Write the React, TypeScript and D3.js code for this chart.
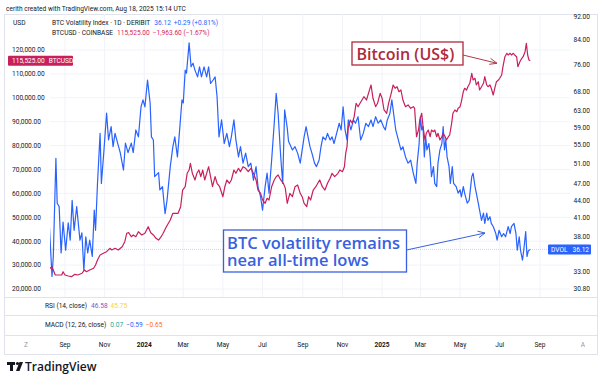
import React from "react";
import * as d3 from "d3";

const W = 602;
const H = 385;

// [days since 2023-09-01, DVOL]
const dvolSeries: [number, number][] = [
  [-27, 33.7], [-24, 39.6], [-20, 32.4], [-18, 35.1], [-14, 52.1], [-12, 43.5], [-9, 42.9], [-6, 35.6], [-3, 40.3],
  [1, 36.0], [5, 40.2], [8, 37.5], [11, 44.0], [14, 39.0], [18, 42.9], [23, 37.5], [26, 38.6], [29, 33.2], [32, 38.0],
  [35, 35.6], [38, 37.5], [42, 35.1], [45, 42.3], [47, 39.0], [50, 47.1], [54, 57.6], [56, 47.1], [60, 53.9], [64, 62.5],
  [67, 56.1], [71, 59.2], [74, 54.6], [77, 57.6], [81, 55.4], [85, 53.3], [90, 49.7], [93, 55.4], [97, 53.3], [102, 55.4],
  [105, 53.3], [109, 58.4], [113, 56.8], [117, 64.1], [120, 65.9], [123, 64.1], [127, 71.4], [131, 65.1], [133, 56.8],
  [136, 56.1], [138, 48.4], [144, 49.2], [146, 45.9], [150, 46.5], [154, 41.7], [157, 44.0], [162, 50.4], [166, 54.6],
  [169, 56.8], [173, 52.4], [176, 57.6], [180, 65.9], [182, 65.1], [185, 74.3], [187, 73.4], [191, 82.9], [194, 75.3],
  [197, 76.4], [200, 74.3], [204, 72.3], [207, 75.3], [210, 72.3], [214, 75.3], [218, 72.3], [221, 75.3], [224, 70.4],
  [228, 71.4], [231, 72.3], [234, 66.8], [237, 56.8], [241, 60.8], [245, 55.3], [249, 57.6], [253, 54.6], [256, 56.8],
  [260, 60.8], [263, 56.1], [267, 52.4], [270, 54.6], [274, 51.1], [278, 53.2], [282, 50.4], [286, 51.1], [290, 47.7],
  [294, 50.4], [297, 46.5], [301, 44.6], [304, 42.3], [308, 46.5], [311, 49.1], [314, 45.3], [318, 51.7], [322, 60.0],
  [325, 67.7], [328, 62.4], [332, 52.4], [335, 47.1], [338, 63.3], [342, 58.9], [344, 55.8], [350, 53.9], [354, 54.6],
  [358, 53.2], [362, 51.1], [365, 53.9], [368, 56.8], [371, 59.2], [374, 56.8], [377, 54.6], [380, 53.2], [384, 51.1],
  [387, 50.4], [391, 51.7], [394, 54.6], [397, 56.8], [401, 56.1], [404, 57.6], [408, 56.1], [411, 56.8], [414, 55.3],
  [418, 57.6], [422, 60.0], [425, 58.4], [428, 64.1], [431, 58.4], [434, 56.1], [436, 60.8], [440, 58.4], [444, 60.8],
  [447, 60.0], [451, 61.6], [455, 56.1], [459, 57.6], [463, 60.0], [467, 59.2], [471, 60.8], [474, 59.2], [478, 61.6],
  [482, 60.0], [486, 60.8], [490, 59.2], [493, 58.4], [496, 60.8], [500, 62.4], [503, 65.9], [505, 63.3], [509, 58.4],
  [513, 56.1], [517, 53.9], [520, 54.6], [524, 52.4], [528, 51.1], [532, 51.7], [536, 49.1], [540, 47.1], [542, 51.1],
  [545, 55.3], [547, 61.6], [549, 58.4], [551, 59.2], [553, 52.4], [555, 56.8], [557, 53.9], [560, 55.3], [562, 52.4],
  [564, 48.4], [567, 50.4], [569, 47.1], [572, 46.5], [574, 51.1], [577, 53.9], [580, 55.3], [582, 59.2], [584, 53.9],
  [586, 56.1], [588, 52.4], [591, 50.4], [593, 47.1], [596, 50.4], [598, 47.1], [602, 46.5], [605, 45.3], [608, 45.9],
  [610, 44.6], [613, 46.5], [615, 45.3], [619, 43.5], [622, 44.0], [626, 48.4], [628, 49.1], [631, 46.5], [633, 45.3],
  [636, 43.5], [638, 42.3], [641, 40.6], [644, 41.8], [646, 40.1], [649, 41.8], [651, 40.6], [654, 41.2], [656, 40.1],
  [659, 39.6], [663, 38.5], [665, 37.5], [668, 39.0], [672, 38.0], [675, 38.5], [678, 38.0], [682, 39.6], [685, 38.5],
  [687, 39.6], [691, 40.1], [694, 38.5], [696, 36.0], [699, 38.0], [701, 36.0], [704, 34.6], [706, 36.0], [709, 38.8],
  [711, 35.1], [713, 35.9], [716, 36.12],
];

// [days since 2023-09-01, BTCUSD close]
const btcSeries: [number, number][] = [
  [-27, 29300], [-23, 28660], [-20, 29300], [-15, 25860], [-10, 25860], [-5, 25860], [-3, 27240], [0, 25860], [5, 25440],
  [10, 25150], [15, 26150], [20, 25860], [26, 26570], [30, 27950], [33, 27240], [38, 27950], [44, 28660], [47, 30040],
  [50, 32140], [54, 34230], [59, 34940], [64, 35610], [69, 37030], [72, 36320], [77, 37030], [82, 36320], [88, 37700],
  [92, 39790], [95, 43310], [98, 43560], [102, 41880], [105, 42600], [109, 41880], [113, 43980], [118, 42600],
  [123, 43310], [128, 46070], [132, 43560], [136, 42600], [140, 41210], [144, 40500], [148, 41880], [151, 43310],
  [156, 46070], [162, 48870], [166, 51670], [169, 51670], [174, 51670], [178, 54440], [181, 61420], [185, 62800],
  [188, 68410], [191, 69790], [193, 72600], [196, 68410], [200, 65610], [203, 68410], [206, 69790], [209, 66990],
  [212, 69790], [215, 65610], [218, 68410], [221, 71170], [224, 66990], [227, 62800], [231, 66990], [234, 64230],
  [238, 62800], [243, 58620], [246, 62800], [249, 65610], [253, 64230], [256, 65610], [260, 69790], [263, 68410],
  [267, 70500], [270, 69080], [274, 71170], [278, 70500], [282, 69080], [286, 70500], [290, 68410], [294, 65610],
  [297, 61420], [301, 60040], [304, 57240], [308, 55860], [311, 57950], [314, 57240], [318, 62800], [322, 65610],
  [325, 66990], [328, 67700], [332, 65610], [336, 64230], [339, 62200], [342, 55860], [346, 60040], [350, 58620],
  [354, 62800], [358, 63520], [362, 60040], [365, 58620], [368, 55860], [372, 54440], [375, 58620], [378, 57240],
  [382, 61420], [386, 62800], [389, 64230], [392, 65610], [396, 62800], [400, 61420], [404, 64230], [408, 66320],
  [411, 68410], [415, 66990], [420, 68410], [423, 69790], [427, 69080], [430, 71170], [432, 76780], [434, 79540],
  [436, 87910], [439, 90710], [442, 89330], [445, 92090], [448, 97700], [451, 96280], [454, 97700], [457, 99080],
  [460, 100460], [464, 99080], [467, 101880], [471, 105360], [474, 99790], [478, 96280], [481, 97700], [485, 101880],
  [488, 99790], [491, 94900], [495, 93520], [498, 97700], [502, 101880], [505, 105360], [508, 103980], [511, 104640],
  [514, 102550], [517, 103260], [520, 99080], [524, 96280], [528, 96990], [532, 95610], [536, 96280], [538, 95610],
  [541, 83720], [544, 86530], [546, 90710], [549, 93520], [551, 87910], [554, 82340], [556, 85150], [559, 86530],
  [562, 83720], [564, 86530], [567, 85820], [569, 86530], [572, 83720], [574, 85150], [577, 82340], [580, 83720],
  [582, 85150], [585, 83720], [587, 82340], [590, 83720], [592, 84440], [595, 89330], [597, 93520], [600, 94900],
  [603, 94180], [605, 95610], [608, 96280], [610, 98370], [613, 102550], [615, 103980], [618, 103260], [620, 104640],
  [623, 106070], [626, 110250], [628, 107450], [631, 108160], [633, 105360], [636, 106740], [638, 103260],
  [641, 104640], [644, 106070], [646, 108830], [649, 105360], [651, 104640], [654, 105360], [656, 103980],
  [659, 101170], [662, 104640], [664, 106740], [667, 107450], [669, 108160], [672, 109540], [674, 113010],
  [677, 117200], [680, 118620], [682, 117910], [685, 118620], [687, 117910], [690, 118620], [692, 117910],
  [695, 117200], [697, 113010], [700, 115100], [703, 116530], [705, 117200], [708, 119290], [710, 122800],
  [712, 117910], [714, 115820], [716, 115525],
];

const leftTicks = [120000, 110000, 100000, 90000, 80000, 70000, 60000, 50000, 40000, 30000, 20000];
const rightTicks = [92, 84, 76, 68, 63, 59, 55, 51, 47, 44, 41, 38, 33, 30.8];
const monthTicks = [
  "2023-09-01", "2023-11-01", "2024-01-01", "2024-03-01", "2024-05-01", "2024-07-01", "2024-09-01",
  "2024-11-01", "2025-01-01", "2025-03-01", "2025-05-01", "2025-07-01", "2025-09-01",
];
const monthLabels = ["Sep", "Nov", "2024", "Mar", "May", "Jul", "Sep", "Nov", "2025", "Mar", "May", "Jul", "Sep"];

const BLUE = "#2962ff";
const PINK = "#c8205d";
const UI = "Roboto, 'Noto Sans', sans-serif";
const ANN = "'Open Sans', 'Noto Sans', sans-serif";

const origin = new Date(Date.UTC(2023, 8, 1));
const toDate = (d: number) => d3.utcDay.offset(origin, d);

export default function App() {
  const x = d3.scaleUtc().domain([origin, new Date(Date.UTC(2025, 8, 1))]).range([65, 540]);
  const yL = d3.scaleLinear().domain([20000, 120000]).range([289, 50]);
  const yR = d3.scaleLog().domain([30.8, 92]).range([289, 17]);

  const dvolLine = d3.line<[number, number]>().x((d) => x(toDate(d[0]))).y((d) => yR(d[1]));
  const btcLine = d3.line<[number, number]>().x((d) => x(toDate(d[0]))).y((d) => yL(d[1]));

  const lastDvol = dvolSeries[dvolSeries.length - 1][1];
  const lastBtc = btcSeries[btcSeries.length - 1][1];
  const fmt = d3.format(",.2f");

  const chartL = 50;
  const chartR = 570;

  return (
    <svg width={W} height={H} viewBox={`0 0 ${W} ${H}`} style={{ display: "block", position: "absolute", left: 0, top: 0, background: "#fff" }}>
      <defs>
        <clipPath id="plot">
          <rect x={chartL} y={14} width={chartR - chartL} height={283} />
        </clipPath>
      </defs>
      <rect width={W} height={H} fill="#fff" />
      <text x={6} y={11} fontSize={6.6} fontFamily={UI} fill="#131722">
        cerith created with TradingView.com, Aug 18, 2025 15:14 UTC
      </text>
      {/* frame */}
      <rect x={4.5} y={14.5} width={593} height={340} fill="none" stroke="#e0e3eb" strokeWidth={1} />

      {/* grid */}
      {leftTicks.map((t) => (
        <line key={"gh" + t} x1={chartL} x2={chartR} y1={yL(t)} y2={yL(t)} stroke="#f0f3fa" strokeWidth={1} />
      ))}
      {monthTicks.map((m) => (
        <line key={"gv" + m} x1={x(new Date(m))} x2={x(new Date(m))} y1={14} y2={297} stroke="#f0f3fa" strokeWidth={1} />
      ))}

      {/* current DVOL line */}
      <line x1={chartL} x2={chartR} y1={yR(lastDvol)} y2={yR(lastDvol)} stroke={BLUE} strokeOpacity={0.35} strokeWidth={0.8} strokeDasharray="1,1" />

      <g clipPath="url(#plot)">
        <path d={dvolLine(dvolSeries) || ""} fill="none" stroke={BLUE} strokeWidth={1.2} strokeLinejoin="round" />
        <path d={btcLine(btcSeries) || ""} fill="none" stroke={PINK} strokeWidth={1.2} strokeLinejoin="round" />
      </g>

      {/* legend */}
      <text x={13} y={25} fontSize={6.6} fontFamily={UI} fill="#131722">USD</text>
      <text x={52} y={25} fontSize={6.6} fontFamily={UI} fill="#131722">
        BTC Volatility Index · 1D · DERIBIT
        <tspan dx={4} fill={BLUE}>{lastDvol.toFixed(2)}</tspan>
        <tspan dx={3} fill={BLUE}>+0.29 (+0.81%)</tspan>
      </text>
      <text x={52} y={35} fontSize={6.6} fontFamily={UI} fill="#131722">
        BTCUSD · COINBASE
        <tspan dx={4} fill="#d81b60">{fmt(lastBtc)}</tspan>
        <tspan dx={3} fill="#d81b60">−1,963.60 (−1.67%)</tspan>
      </text>

      {/* left axis */}
      {leftTicks.map((t) => (
        <text key={"lt" + t} x={12} y={yL(t)} dy="0.35em" fontSize={6.6} fontFamily={UI} fill="#131722">
          {fmt(t)}
        </text>
      ))}
      <rect x={8} y={yL(lastBtc) - 5} width={65} height={10} rx={1} fill={PINK} />
      <text x={12} y={yL(lastBtc)} dy="0.35em" fontSize={6.6} fontFamily={UI} fill="#fff">
        {fmt(lastBtc)}
        <tspan dx={4}>BTCUSD</tspan>
      </text>

      {/* right axis */}
      {rightTicks.map((t) => (
        <text key={"rt" + t} x={590} y={yR(t)} dy="0.35em" textAnchor="end" fontSize={6.6} fontFamily={UI} fill="#131722">
          {t.toFixed(2)}
        </text>
      ))}
      <rect x={548} y={yR(lastDvol) - 5} width={43} height={10} rx={1} fill={BLUE} />
      <text x={551} y={yR(lastDvol)} dy="0.35em" fontSize={6.6} fontFamily={UI} fill="#fff">
        DVOL
        <tspan dx={5}>{lastDvol.toFixed(2)}</tspan>
      </text>

      {/* lower panes */}
      <line x1={4.5} x2={597.5} y1={297.5} y2={297.5} stroke="#e0e3eb" />
      <line x1={4.5} x2={597.5} y1={315.5} y2={315.5} stroke="#e0e3eb" />
      <line x1={4.5} x2={597.5} y1={335.5} y2={335.5} stroke="#e0e3eb" />
      <text x={45} y={308} fontSize={6.6} fontFamily={UI} fill="#131722">
        RSI (14, close)
        <tspan dx={4} fill="#7e57c2">46.58</tspan>
        <tspan dx={3} fill="#f5d442">45.75</tspan>
      </text>
      <text x={45} y={327} fontSize={6.6} fontFamily={UI} fill="#131722">
        MACD (12, 26, close)
        <tspan dx={4} fill="#26a69a">0.07</tspan>
        <tspan dx={3} fill={BLUE}>−0.59</tspan>
        <tspan dx={3} fill="#ff6d00">−0.65</tspan>
      </text>

      {/* time axis */}
      <text x={26} y={345} dy="0.35em" textAnchor="middle" fontSize={6.6} fontFamily={UI} fill="#9598a1">Z</text>
      <text x={583} y={345} dy="0.35em" textAnchor="middle" fontSize={6.6} fontFamily={UI} fill="#9598a1">A</text>
      {monthTicks.map((m, i) => (
        <text key={"mt" + m} x={x(new Date(m))} y={345} dy="0.35em" textAnchor="middle" fontSize={6.6}
          fontWeight={monthLabels[i].length === 4 ? 700 : 400} fontFamily={UI} fill="#131722">
          {monthLabels[i]}
        </text>
      ))}

      {/* annotations */}
      <rect x={352} y={42} width={111} height={23} fill="#fff" stroke="#b02a3c" strokeWidth={1.3} />
      <text x={356.5} y={60} fontSize={16} fontWeight={600} fontFamily={ANN} fill="#b02a3c">Bitcoin (US$)</text>
      <line x1={463} y1={55} x2={497} y2={63.3} stroke="#b03a48" strokeWidth={1} />
      <path d="M490.6,58.4 L497,63.3 L489.2,64.3" fill="none" stroke="#b03a48" strokeWidth={1} />

      <rect x={223.5} y={230} width={183} height={42} fill="#fff" stroke="#3a5fe0" strokeWidth={1.3} />
      <text fontSize={16.5} fontWeight={600} fontFamily={ANN} fill="#3a5fe0">
        <tspan x={227} y={248.5}>BTC volatility remains</tspan>
        <tspan x={227} y={265.5}>near all-time lows</tspan>
      </text>
      <line x1={406.5} y1={250} x2={485} y2={233} stroke="#3a5fe0" strokeWidth={1} />
      <path d="M477.5,231.2 L485,233 L479,237.6" fill="none" stroke="#3a5fe0" strokeWidth={1} />

      {/* logo */}
      <g fill="#131722">
        <rect x={7} y={362} width={8} height={3} />
        <rect x={10} y={362} width={3} height={9} />
        <circle cx={17.5} cy={363.5} r={1.6} />
        <polygon points="16,371 19.5,362 23,362 19.5,371" />
      </g>
      <text x={25} y={371} fontSize={12} fontWeight={600} fontFamily={ANN} fill="#131722">TradingView</text>
    </svg>
  );
}
